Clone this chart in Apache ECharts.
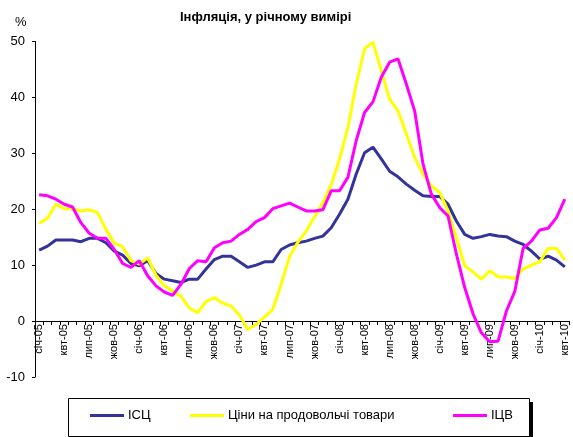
<!DOCTYPE html>
<html>
<head>
<meta charset="utf-8">
<script src="https://cdn.jsdelivr.net/npm/echarts@6/dist/echarts.min.js"></script>
<style>
html,body{margin:0;padding:0;background:#fff;}
#c{width:573px;height:437px;}
</style>
</head>
<body>
<div id="c"></div>
<script>
var monthNames = ['січ','лют','бер','квт','трв','чрв','лип','сер','вер','жов','лис','гру'];
var years = ['05','06','07','08','09','10'];
var categories = [];
for (var y = 0; y < years.length; y++) {
  for (var m = 0; m < 12; m++) {
    if (y === 5 && m > 3) break;
    categories.push(monthNames[m] + '-' + years[y]);
  }
}
var yTicks = { min: -10, max: 50, interval: 10 };

var seriesNames = ['ІСЦ', 'Ціни на продовольчі товари', 'ІЦВ'];

var cpi = [12.7,13.4,14.5,14.5,14.5,14.2,14.8,14.8,14.0,12.5,11.8,10.3,
  9.9,10.8,8.5,7.5,7.2,6.9,7.5,7.5,9.3,11.0,11.6,11.6,
  10.6,9.6,10.0,10.6,10.6,12.8,13.6,14.0,14.3,14.8,15.2,16.7,
  19.1,21.8,26.3,30.1,31.1,29.0,26.8,25.8,24.5,23.4,22.4,22.3,
  22.3,20.9,17.9,15.5,14.8,15.1,15.5,15.2,15.1,14.3,13.7,12.5,
  11.1,11.6,10.9,9.7];

var food = [17.5,18.4,20.9,20.1,20.1,19.7,19.9,19.4,16.4,13.9,13.3,10.8,
  10.2,11.3,8.2,6.3,5.4,4.4,2.3,1.5,3.5,4.2,3.2,2.7,
  1.1,-1.5,-0.6,0.7,2.1,6.6,11.5,14.1,16.1,18.6,21.2,24.4,
  29.0,34.6,42.4,48.7,49.9,44.8,39.7,37.6,33.5,29.3,26.3,24.2,
  23.0,19.7,14.9,9.9,8.8,7.5,9.0,7.9,7.9,7.6,9.3,10.0,
  10.6,13.0,13.0,10.9];

var ppi = [22.6,22.4,21.8,20.9,20.4,17.6,15.7,14.8,14.8,12.8,10.3,9.6,
  10.8,8.1,6.3,5.2,4.6,6.6,9.4,10.8,10.6,13.1,14.0,14.3,
  15.5,16.4,17.8,18.5,20.1,20.6,21.1,20.4,19.7,19.7,19.9,23.3,
  23.3,25.7,32.3,37.3,39.2,43.6,46.3,46.9,42.4,37.6,28.1,22.7,
  20.3,18.8,12.0,6.0,1.3,-2.1,-3.7,-3.6,1.8,5.3,13.0,14.3,
  16.3,16.6,18.5,21.8];

var colors = ['#333399', '#FFFF00', '#FF00FF'];
var FONT = '"Liberation Sans", Arial, sans-serif';

var GRID_TOP = 41.5, GRID_BOTTOM = 60, H = 437;
var plotH = H - GRID_TOP - GRID_BOTTOM;
var zeroOffset = -(0 - yTicks.min) / (yTicks.max - yTicks.min) * plotH;

var chart = echarts.init(document.getElementById('c'), null, {renderer: 'canvas'});

function mkSeries(name, data, color) {
  return {
    name: name, type: 'line', data: data,
    symbol: 'none', smooth: false,
    lineStyle: { color: color, width: 3 },
    itemStyle: { color: color },
    emphasis: { disabled: true },
    animation: false
  };
}

function mkLegend(name, left) {
  return {
    data: [name], left: left, top: 409, padding: 0,
    icon: 'rect', itemWidth: 34, itemHeight: 3, itemGap: 0,
    selectedMode: false,
    textStyle: { fontFamily: FONT, fontSize: 13, color: '#000', padding: [0,0,0,-1] }
  };
}

chart.setOption({
  animation: false,
  backgroundColor: '#fff',
  color: colors,
  grid: { left: 35, right: 4, top: GRID_TOP, bottom: GRID_BOTTOM },
  graphic: [
    { type: 'rect', z: 0, shape: { x: 72, y: 402, width: 461, height: 38 }, style: { fill: '#000' } },
    { type: 'rect', z: 1, shape: { x: 68.5, y: 398.5, width: 461, height: 38 }, style: { fill: '#fff', stroke: '#000', lineWidth: 1 } },
    { type: 'text', left: 180, top: 11, style: { text: 'Інфляція, у річному вимірі', font: 'bold 13px ' + FONT, fill: '#000' } },
    { type: 'text', left: 15, top: 16, style: { text: '%', font: '13px ' + FONT, fill: '#000' } }
  ],
  legend: [
    mkLegend(seriesNames[0], 90),
    mkLegend(seriesNames[1], 190),
    mkLegend(seriesNames[2], 453)
  ],
  xAxis: {
    type: 'category', data: categories, boundaryGap: true,
    position: 'bottom', offset: zeroOffset,
    axisLine: { onZero: false, lineStyle: { color: '#000', width: 1 } },
    axisTick: { show: true, interval: 0, length: 4, alignWithLabel: false, lineStyle: { color: '#000' } },
    axisLabel: { interval: 2, rotate: 90, margin: 3, fontSize: 11, fontFamily: FONT, color: '#000' },
    splitLine: { show: false }
  },
  yAxis: {
    type: 'value', min: yTicks.min, max: yTicks.max, interval: yTicks.interval,
    axisLine: { show: true, lineStyle: { color: '#000', width: 1 } },
    axisTick: { show: true, length: 3, lineStyle: { color: '#000' } },
    axisLabel: { margin: 10, fontSize: 13, fontFamily: FONT, color: '#000' },
    splitLine: { show: false }
  },
  series: [
    mkSeries(seriesNames[0], cpi, colors[0]),
    mkSeries(seriesNames[1], food, colors[1]),
    mkSeries(seriesNames[2], ppi, colors[2])
  ]
});
</script>
</body>
</html>
